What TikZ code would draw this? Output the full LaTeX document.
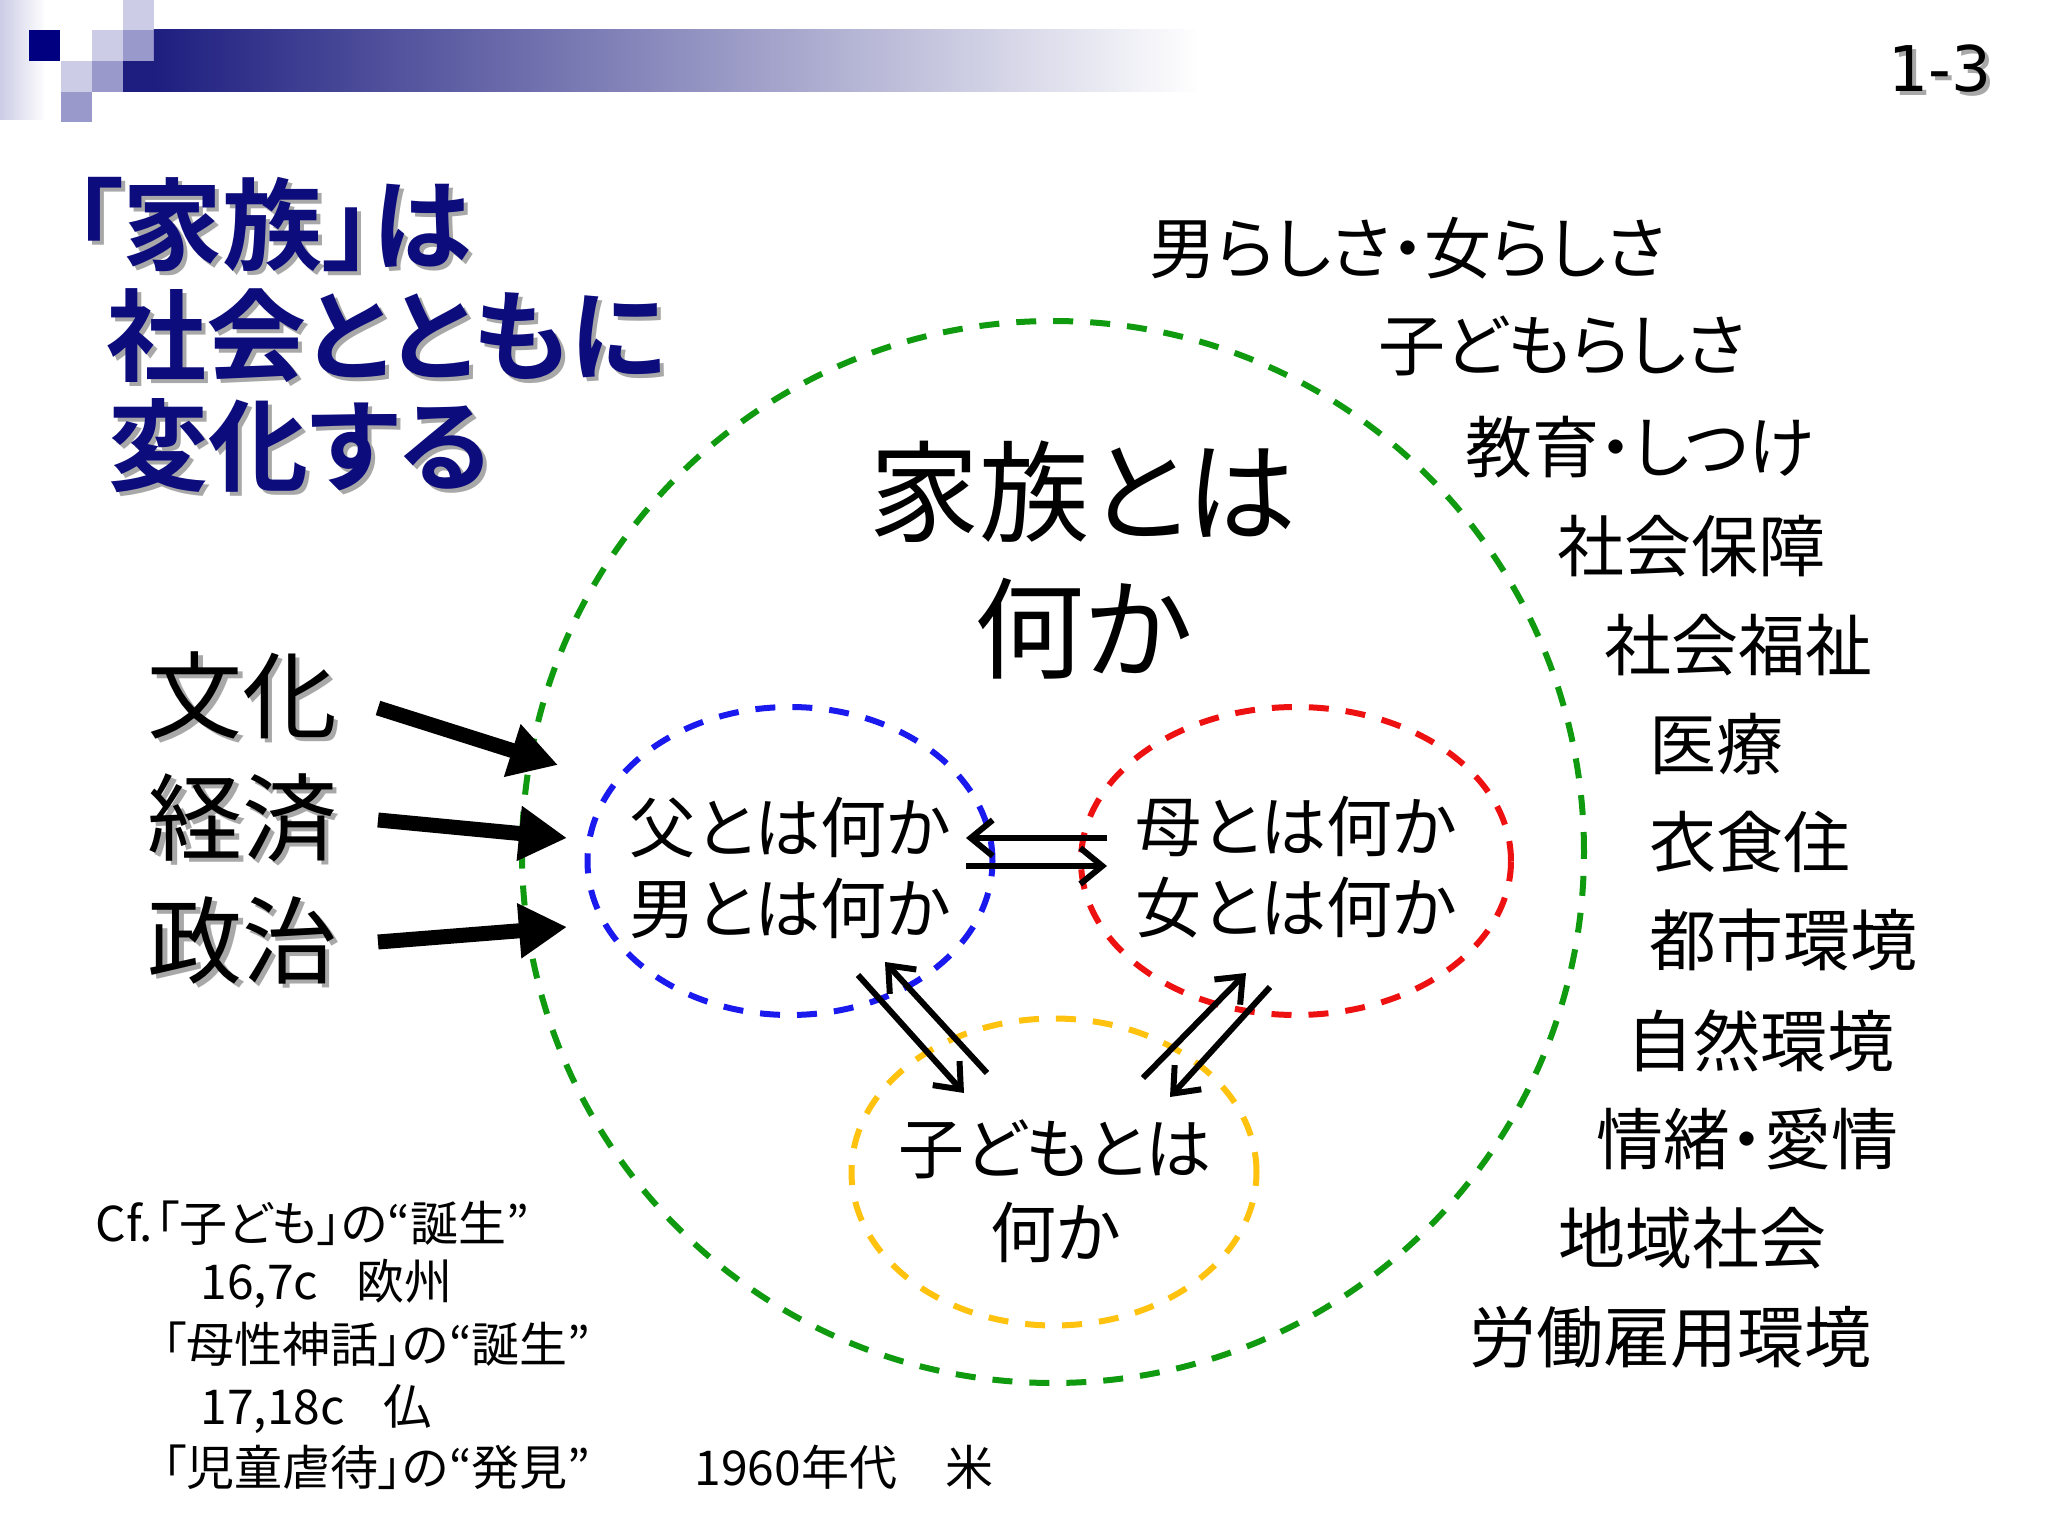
\documentclass[tikz,border=0pt]{standalone}
\usepackage{xcolor}
\usepackage{fontspec}
\setmainfont{Noto Sans CJK JP}[RawFeature=+palt, BoldFont={Noto Sans CJK JP Bold}]
\newfontfamily\slidenumfont{DejaVu Sans}
\usepackage{tikz}
\usetikzlibrary{arrows.meta,shapes.geometric}
\definecolor{navycolor}{HTML}{000080}
\definecolor{titlecolor}{HTML}{0C0C7C}
\definecolor{lightcolor}{HTML}{CCCCE6}
\definecolor{midcolor}{HTML}{9999CC}
\definecolor{barcolor}{HTML}{1E1E80}
\definecolor{fadecolor}{HTML}{A2A2BA}
\definecolor{dropcolor}{HTML}{A8A8A8}
\definecolor{familycolor}{HTML}{109A10}
\definecolor{fathercolor}{HTML}{1A1AEE}
\definecolor{mothercolor}{HTML}{EE1111}
\definecolor{childcolor}{HTML}{FFC20E}
\newcommand{\shadowed}[1]{\leavevmode\rlap{\kern0.04cm\raisebox{-0.04cm}{\textcolor{dropcolor}{#1}}}#1}

\begin{document}
\begin{tikzpicture}[%
  ring/.style={draw, ellipse, line width=0.06cm, dash pattern=on 0.2cm off 0.17cm, inner sep=0pt, outer sep=0pt},%
  titletext/.style={anchor=west, inner sep=0pt, text=titlecolor, font=\fontsize{1.0cm}{1.1cm}\selectfont\bfseries},%
  factor/.style={inner sep=0pt, font=\fontsize{0.95cm}{1.1cm}\selectfont},%
  bigarrow/.style={line width=0.15cm, -{Triangle[length=0.48cm, width=0.52cm]}},%
  thinarrow/.style={line width=0.06cm, -{Straight Barb[length=0.22cm, width=0.36cm]}},%
  midtext/.style={inner sep=0pt, align=center, font=\fontsize{0.66cm}{0.81cm}\selectfont},%
  listitem/.style={anchor=west, inner sep=0pt, font=\fontsize{0.67cm}{0.8cm}\selectfont},%
  notetext/.style={anchor=west, inner sep=0pt, font=\fontsize{0.48cm}{0.58cm}\selectfont}]%
\useasboundingbox (0,0) rectangle (20.48,-15.36);%
% header
\shade[left color=lightcolor, right color=white] (0,0) rectangle (0.46,-1.2);%
\fill[navycolor] (0.29,-0.30) rectangle (0.60,-0.61);%
\fill[lightcolor] (0.92,-0.30) rectangle (1.23,-0.61);%
\fill[lightcolor] (1.23,0) rectangle (1.54,-0.30);%
\fill[lightcolor] (0.61,-0.61) rectangle (0.92,-0.92);%
\fill[midcolor] (1.23,-0.30) rectangle (1.54,-0.61);%
\fill[midcolor] (0.92,-0.61) rectangle (1.23,-0.92);%
\fill[midcolor] (0.61,-0.92) rectangle (0.92,-1.22);%
\fill[barcolor] (1.23,-0.61) rectangle (1.54,-0.92);%
\shade[left color=barcolor, middle color=fadecolor, right color=white] (1.54,-0.30) rectangle (12.0,-0.92);%
\node[inner sep=0pt, font=\slidenumfont\fontsize{0.63cm}{0.75cm}\selectfont] (slide-no) at (19.40,-0.71) {\shadowed{1-3}};%
% title
\node[titletext] (title-a) at (0.72,-2.27) {\shadowed{「家族」は}};%
\node[titletext] (title-b) at (1.06,-3.38) {\shadowed{社会とともに}};%
\node[titletext] (title-c) at (1.08,-4.48) {\shadowed{変化する}};%
% rings
\node[ring, draw=familycolor, minimum width=10.62cm, minimum height=10.62cm] (family) at (10.53,-8.52) {};%
\node[ring, draw=fathercolor, minimum width=4.05cm, minimum height=3.08cm] (father) at (7.90,-8.61) {};%
\node[ring, draw=mothercolor, minimum width=4.30cm, minimum height=3.08cm] (mother) at (12.96,-8.61) {};%
\node[ring, draw=childcolor, minimum width=4.05cm, minimum height=3.07cm] (child) at (10.54,-11.72) {};%
% texts in the rings
\node[inner sep=0pt, align=center, font=\fontsize{1.1cm}{1.37cm}\selectfont] (family-text) at (10.83,-5.605) {家族とは\\何か};%
\node[midtext] (father-text) at (7.90,-8.675) {父とは何か\\男とは何か};%
\node[midtext] (mother-text) at (12.96,-8.675) {母とは何か\\女とは何か};%
\node[midtext, font=\fontsize{0.66cm}{0.84cm}\selectfont] (child-text) at (10.55,-11.91) {子どもとは\\何か};%
% factors
\node[factor] (bunka) at (2.43,-6.97) {\shadowed{文化}};%
\node[factor] (keizai) at (2.43,-8.20) {\shadowed{経済}};%
\node[factor] (seiji) at (2.43,-9.42) {\shadowed{政治}};%
\coordinate (bunka-tail) at (3.78,-7.08);%
\coordinate (bunka-tip) at (5.58,-7.65);%
\coordinate (keizai-tail) at (3.78,-8.20);%
\coordinate (keizai-tip) at (5.67,-8.38);%
\coordinate (seiji-tail) at (3.78,-9.42);%
\coordinate (seiji-tip) at (5.67,-9.27);%
\draw[bigarrow] (bunka-tail) -- (bunka-tip);%
\draw[bigarrow] (keizai-tail) -- (keizai-tip);%
\draw[bigarrow] (seiji-tail) -- (seiji-tip);%
% arrows between the rings
\coordinate (mf-tail) at (11.07,-8.38);%
\coordinate (mf-tip) at (9.66,-8.38);%
\coordinate (fm-tail) at (9.66,-8.66);%
\coordinate (fm-tip) at (11.07,-8.66);%
\coordinate (cf-tail) at (9.87,-10.73);%
\coordinate (cf-tip) at (8.85,-9.62);%
\coordinate (fc-tail) at (8.58,-9.75);%
\coordinate (fc-tip) at (9.64,-10.93);%
\coordinate (cm-tail) at (11.43,-10.78);%
\coordinate (cm-tip) at (12.46,-9.73);%
\coordinate (mc-tail) at (12.70,-9.87);%
\coordinate (mc-tip) at (11.70,-10.97);%
\draw[thinarrow] (mf-tail) -- (mf-tip);%
\draw[thinarrow] (fm-tail) -- (fm-tip);%
\draw[thinarrow] (cf-tail) -- (cf-tip);%
\draw[thinarrow] (fc-tail) -- (fc-tip);%
\draw[thinarrow] (cm-tail) -- (cm-tip);%
\draw[thinarrow] (mc-tail) -- (mc-tip);%
% list on the right
\node[listitem] (item-1) at (11.49,-2.48) {男らしさ・女らしさ};%
\node[listitem] (item-2) at (13.78,-3.46) {子どもらしさ};%
\node[listitem] (item-3) at (14.65,-4.47) {教育・しつけ};%
\node[listitem] (item-4) at (15.57,-5.46) {社会保障};%
\node[listitem] (item-5) at (16.04,-6.45) {社会福祉};%
\node[listitem] (item-6) at (16.49,-7.44) {医療};%
\node[listitem] (item-7) at (16.49,-8.42) {衣食住};%
\node[listitem] (item-8) at (16.49,-9.40) {都市環境};%
\node[listitem] (item-9) at (16.26,-10.41) {自然環境};%
\node[listitem] (item-10) at (15.96,-11.39) {情緒・愛情};%
\node[listitem] (item-11) at (15.58,-12.38) {地域社会};%
\node[listitem] (item-12) at (14.69,-13.37) {労働雇用環境};%
% notes
\node[notetext] (note-1) at (0.95,-12.23) {Cf.\kern0.03cm「子ども」の“誕生”};%
\node[notetext] (note-2) at (2.00,-12.84) {16,7c\kern0.38cm 欧州};%
\node[notetext] (note-3) at (1.62,-13.44) {「母性神話」の“誕生”};%
\node[notetext] (note-4) at (2.00,-14.09) {17,18c\kern0.38cm 仏};%
\node[notetext] (note-5) at (1.62,-14.67) {「児童虐待」の“発見”};%
\node[notetext] (note-6) at (6.94,-14.67) {1960年代　米};%
\end{tikzpicture}
\end{document}
